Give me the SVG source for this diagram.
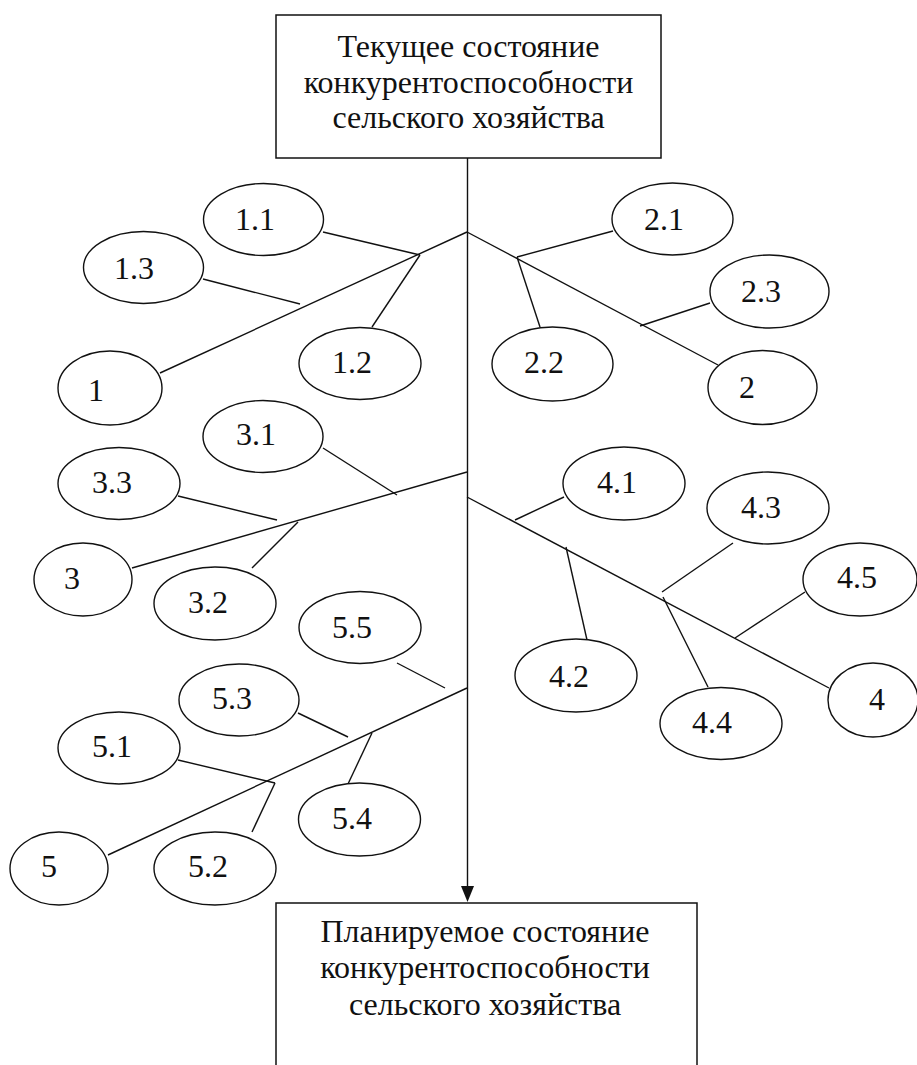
<svg xmlns="http://www.w3.org/2000/svg" width="917" height="1065" viewBox="0 0 917 1065">
  <style>
    .box { fill: #fff; stroke: #111; stroke-width: 1.5; }
    .node ellipse { fill: #fff; stroke: #111; stroke-width: 1.4; }
    .node text { font-family: "Liberation Serif", "Times New Roman", serif; font-size: 32px; fill: #111; }
    .title { font-family: "Liberation Serif", "Times New Roman", serif; font-size: 32px; fill: #111; text-anchor: middle; }
    .links line { stroke: #111; stroke-width: 1.4; fill: none; }
  </style>
  <defs>
    <marker id="arrow" markerWidth="14" markerHeight="16" refX="7" refY="15" orient="auto-start-reverse" markerUnits="userSpaceOnUse" viewBox="0 0 14 16">
      <path d="M0,0 L14,0 L7,16 Z" fill="#111" transform="rotate(-90 7 8)"/>
    </marker>
  </defs>
  <rect width="917" height="1065" fill="#fff"/>

  <!-- connectors: spine, main branches and sub-branches -->
  <g id="connectors" class="links">
    <line x1="467.5" y1="158" x2="467.5" y2="887"/>
    <path d="M461,886 L474,886 L467.5,902 Z" fill="#111"/>
    <!-- branch 1 -->
    <line x1="467" y1="232" x2="160" y2="373"/>
    <line x1="323" y1="232" x2="420" y2="255"/>
    <line x1="372" y1="327" x2="420" y2="255"/>
    <line x1="203" y1="279" x2="300" y2="304"/>
    <!-- branch 2 -->
    <line x1="467" y1="232" x2="718" y2="365"/>
    <line x1="517" y1="257" x2="613" y2="231"/>
    <line x1="517" y1="257" x2="540" y2="327"/>
    <line x1="640" y1="326" x2="710" y2="303"/>
    <!-- branch 3 -->
    <line x1="467" y1="472" x2="132" y2="568"/>
    <line x1="323" y1="448" x2="397" y2="495"/>
    <line x1="178" y1="496" x2="277" y2="520"/>
    <line x1="252" y1="568" x2="298" y2="522"/>
    <!-- branch 4 -->
    <line x1="467" y1="497" x2="829" y2="688"/>
    <line x1="515" y1="520" x2="564" y2="497"/>
    <line x1="566" y1="547" x2="587" y2="640"/>
    <line x1="662" y1="592" x2="733" y2="543"/>
    <line x1="663" y1="597" x2="708" y2="687"/>
    <line x1="735" y1="638" x2="805" y2="592"/>
    <!-- branch 5 -->
    <line x1="467" y1="688" x2="108" y2="855"/>
    <line x1="397" y1="663" x2="445" y2="688"/>
    <line x1="298" y1="713" x2="348" y2="737"/>
    <line x1="372" y1="733" x2="348" y2="784"/>
    <line x1="178" y1="760" x2="275" y2="783"/>
    <line x1="275" y1="783" x2="252" y2="832"/>
  </g>

  <!-- start and target states -->
  <g id="current-state">
    <rect class="box" x="276" y="15" width="385" height="143"/>
    <text class="title" x="468.5" y="57">Текущее состояние</text>
    <text class="title" x="468.5" y="93">конкурентоспособности</text>
    <text class="title" x="468.5" y="128">сельского хозяйства</text>
  </g>
  <g id="planned-state">
    <rect class="box" x="276" y="903" width="421" height="180"/>
    <text class="title" x="485" y="942">Планируемое состояние</text>
    <text class="title" x="485" y="978">конкурентоспособности</text>
    <text class="title" x="485" y="1015">сельского хозяйства</text>
  </g>

  <!-- factor nodes -->
  <g id="n1-1" class="node"><ellipse cx="263.5" cy="219.5" rx="60" ry="36"/><text x="235" y="230">1.1</text></g>
  <g id="n1-3" class="node"><ellipse cx="143.5" cy="267.5" rx="60" ry="36"/><text x="114" y="279">1.3</text></g>
  <g id="n1" class="node"><ellipse cx="110" cy="388" rx="52" ry="37"/><text x="88" y="401">1</text></g>
  <g id="n1-2" class="node"><ellipse cx="360" cy="363.5" rx="61" ry="36"/><text x="332" y="373">1.2</text></g>

  <g id="n2-1" class="node"><ellipse cx="672.5" cy="219" rx="60.5" ry="36"/><text x="644" y="230">2.1</text></g>
  <g id="n2-3" class="node"><ellipse cx="769.5" cy="291.5" rx="59.5" ry="36.5"/><text x="741" y="302">2.3</text></g>
  <g id="n2-2" class="node"><ellipse cx="552.5" cy="364" rx="60.5" ry="37"/><text x="524" y="373">2.2</text></g>
  <g id="n2" class="node"><ellipse cx="762.5" cy="387.5" rx="54.5" ry="37"/><text x="739" y="398">2</text></g>

  <g id="n3-1" class="node"><ellipse cx="263" cy="436.5" rx="60" ry="36"/><text x="236" y="445">3.1</text></g>
  <g id="n3-3" class="node"><ellipse cx="119" cy="483.5" rx="61" ry="36"/><text x="92" y="493">3.3</text></g>
  <g id="n3" class="node"><ellipse cx="83" cy="579.5" rx="49" ry="36.5"/><text x="64" y="589">3</text></g>
  <g id="n3-2" class="node"><ellipse cx="215" cy="603.5" rx="61" ry="36.5"/><text x="188" y="613">3.2</text></g>

  <g id="n4-1" class="node"><ellipse cx="624" cy="483.5" rx="61" ry="36.5"/><text x="597" y="493">4.1</text></g>
  <g id="n4-3" class="node"><ellipse cx="768" cy="508" rx="61" ry="36"/><text x="741" y="518">4.3</text></g>
  <g id="n4-5" class="node"><ellipse cx="860" cy="579.5" rx="57" ry="36.5"/><text x="837" y="588">4.5</text></g>
  <g id="n4-2" class="node"><ellipse cx="576" cy="675.5" rx="61" ry="36.5"/><text x="549" y="687">4.2</text></g>
  <g id="n4-4" class="node"><ellipse cx="721" cy="723.5" rx="61" ry="36"/><text x="692" y="733">4.4</text></g>
  <g id="n4" class="node"><ellipse cx="873" cy="700" rx="45" ry="37"/><text x="869" y="710">4</text></g>

  <g id="n5-5" class="node"><ellipse cx="360" cy="627.5" rx="61" ry="36"/><text x="332" y="638">5.5</text></g>
  <g id="n5-3" class="node"><ellipse cx="239" cy="700" rx="60" ry="36"/><text x="212" y="709">5.3</text></g>
  <g id="n5-1" class="node"><ellipse cx="119" cy="748" rx="61" ry="36"/><text x="92" y="757">5.1</text></g>
  <g id="n5-4" class="node"><ellipse cx="359.5" cy="819.5" rx="61" ry="36.5"/><text x="332" y="829">5.4</text></g>
  <g id="n5-2" class="node"><ellipse cx="215" cy="868.5" rx="61" ry="36.5"/><text x="188" y="877">5.2</text></g>
  <g id="n5" class="node"><ellipse cx="59" cy="868.5" rx="49" ry="36.5"/><text x="41" y="877">5</text></g>
</svg>
